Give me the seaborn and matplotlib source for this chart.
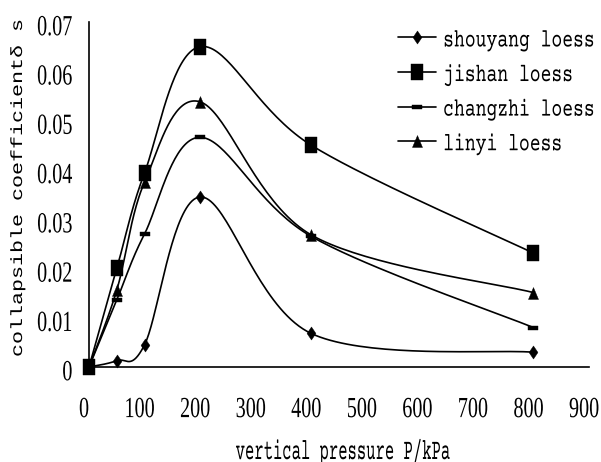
import matplotlib
matplotlib.use("Agg")
import numpy as np
import pandas as pd
import matplotlib.pyplot as plt
import seaborn as sns
from matplotlib.path import Path
from matplotlib.lines import Line2D
from matplotlib.patheffects import AbstractPathEffect
from matplotlib.transforms import Affine2D, ScaledTranslation

# ---------------- data ----------------
pressure = [0, 50, 100, 200, 400, 800]
shouyang = [0.0, 0.0013, 0.0045, 0.0345, 0.0068, 0.0030]
jishan = [0.0, 0.0200, 0.0394, 0.0650, 0.0450, 0.0231]
changzhi = [0.0, 0.0136, 0.0270, 0.0466, 0.0265, 0.0080]
linyi = [0.0, 0.0156, 0.0375, 0.0538, 0.0268, 0.0151]
series_names = ["shouyang loess", "jishan loess", "changzhi loess", "linyi loess"]
xticks = [0, 100, 200, 300, 400, 500, 600, 700, 800, 900]
yticks = [0, 0.01, 0.02, 0.03, 0.04, 0.05, 0.06, 0.07]
ytick_labels = ["0", "0.01", "0.02", "0.03", "0.04", "0.05", "0.06", "0.07"]
xlabel = "vertical pressure P/kPa"
ylabel = "collapsible coefficientδ s"


class Stretch(AbstractPathEffect):
    """Draw text glyphs scaled in their own frame (taller / narrower)."""
    def __init__(self, sx=1.0, sy=1.0, offset=(0, 0)):
        super().__init__(offset)
        self.sx, self.sy = sx, sy

    def draw_path(self, renderer, gc, tpath, affine, rgbFace=None):
        tr = Affine2D().scale(self.sx, self.sy) + affine + self._offset_transform(renderer)
        renderer.draw_path(gc, tpath, tr, rgbFace)


def excel_smooth(xs, ys, kx, ky, n=40):
    P = np.column_stack([np.asarray(xs, float) * kx, np.asarray(ys, float) * ky])
    out = []
    for i in range(len(P) - 1):
        p0 = P[max(i - 1, 0)]
        p1 = P[i]
        p2 = P[i + 1]
        p3 = P[min(i + 2, len(P) - 1)]
        c1 = p1 + (p2 - p0) / 6.0
        c2 = p2 - (p3 - p1) / 6.0
        t = np.linspace(0, 1, n)[:, None]
        seg = (1 - t) ** 3 * p1 + 3 * (1 - t) ** 2 * t * c1 + 3 * (1 - t) * t ** 2 * c2 + t ** 3 * p2
        out.append(seg if i == 0 else seg[1:])
    S = np.vstack(out)
    return S[:, 0] / kx, S[:, 1] / ky


sns.set_theme(style="white")
plt.rcParams["font.family"] = ["Liberation Serif", "DejaVu Sans"]

fig = plt.figure(figsize=(6.01, 4.62), dpi=100)
W, H = 601, 462
ax_l, ax_r, ax_t, ax_b = 89, 589, 22, 367
ax = fig.add_axes([ax_l / W, 1 - ax_b / H, (ax_r - ax_l) / W, (ax_b - ax_t) / H])

values = [shouyang, jishan, changzhi, linyi]
kx = (ax_r - ax_l) / 900.0
ky = (ax_b - ax_t) / 0.07

# smoothed curves
rows = []
for name, ys in zip(series_names, values):
    sx_, sy_ = excel_smooth(pressure, ys, kx, ky)
    for a, b in zip(sx_, sy_):
        rows.append({"P": a, "delta": b, "soil": name})
curve_df = pd.DataFrame(rows)
sns.lineplot(data=curve_df, x="P", y="delta", hue="soil", palette=["black"] * 4,
             sort=False, estimator=None, legend=False, linewidth=1.2, ax=ax, zorder=2)

# markers
diamond = Path([(0, 0.5), (0.34, 0), (0, -0.5), (-0.34, 0), (0, 0.5)], closed=True)
square = Path([(-0.36, -0.5), (0.36, -0.5), (0.36, 0.5), (-0.36, 0.5), (-0.36, -0.5)], closed=True)
dash = Path([(-0.5, -0.17), (0.5, -0.17), (0.5, 0.17), (-0.5, 0.17), (-0.5, -0.17)], closed=True)
tri = Path([(-0.42, -0.5), (0.42, -0.5), (0, 0.5), (-0.42, -0.5)], closed=True)
marker_paths = [diamond, square, dash, tri]
marker_sizes = [9.4, 12.2, 7.2, 8.6]  # points

for name, ys, mk, ms in zip(series_names, values, marker_paths, marker_sizes):
    pts = pd.DataFrame({"P": pressure, "delta": ys})
    sns.scatterplot(data=pts, x="P", y="delta", marker=mk, s=ms ** 2, color="black",
                    edgecolor="black", linewidth=0.3, ax=ax, zorder=3, clip_on=False)

ax.set_xlim(0, 900)
ax.set_ylim(0, 0.07)
ax.set_xticks(xticks)
ax.set_xticklabels([str(v) for v in xticks])
ax.set_yticks(yticks)
ax.set_yticklabels(ytick_labels)

for s in ["top", "right"]:
    ax.spines[s].set_visible(False)
for s in ["left", "bottom"]:
    ax.spines[s].set_color("black")
    ax.spines[s].set_linewidth(1.2)

ax.tick_params(axis="both", direction="in", length=5, width=1.0, color="black",
               labelsize=14.5, labelcolor="black")
ax.tick_params(axis="y", pad=12)
ax.tick_params(axis="x", pad=26)

xshift = ScaledTranslation(-5 / 100, 0, fig.dpi_scale_trans)
for tick in ax.xaxis.get_major_ticks():
    tick.label1.set_transform(tick.label1.get_transform() + xshift)
    tick.label1.set_path_effects([Stretch(1.0, 1.45)])
for lab in ax.get_yticklabels():
    lab.set_path_effects([Stretch(1.0, 1.45, offset=(0, -4.5))])

ax.set_xlabel(xlabel, fontsize=11.2, family=["Courier Prime", "DejaVu Sans Mono"], color="black")
ax.xaxis.label.set_va("baseline")
ax.xaxis.set_label_coords((342 - ax_l) / (ax_r - ax_l), (ax_b - 459) / (ax_b - ax_t))
ax.xaxis.label.set_path_effects([Stretch(1.0, 1.9)])

ax.set_ylabel(ylabel, fontsize=15.6, family=["Liberation Mono", "DejaVu Sans Mono"], color="black")
ax.yaxis.label.set_va("baseline")
ax.yaxis.set_label_coords((22 - ax_l) / (ax_r - ax_l), (ax_b - 188) / (ax_b - ax_t))
ax.yaxis.label.set_path_effects([Stretch(1.0, 0.75)])

handles = [Line2D([], [], color="black", lw=1.2, marker=mk, markersize=ms,
                  markerfacecolor="black", markeredgecolor="black", markeredgewidth=0.3)
           for mk, ms in zip(marker_paths, marker_sizes)]
leg = ax.legend(handles, series_names, loc="upper left",
                bbox_to_anchor=(398 / W, 1 - 31 / H), bbox_transform=fig.transFigure,
                frameon=False, borderpad=0, borderaxespad=0, handlelength=2.1,
                handletextpad=0.4, labelspacing=1.05,
                prop={"family": ["Courier Prime", "DejaVu Sans Mono"], "size": 13})
for t in leg.get_texts():
    t.set_color("black")
    t.set_path_effects([Stretch(1.0, 1.4, offset=(0, -2))])

fig.savefig("out.png", dpi=100)
